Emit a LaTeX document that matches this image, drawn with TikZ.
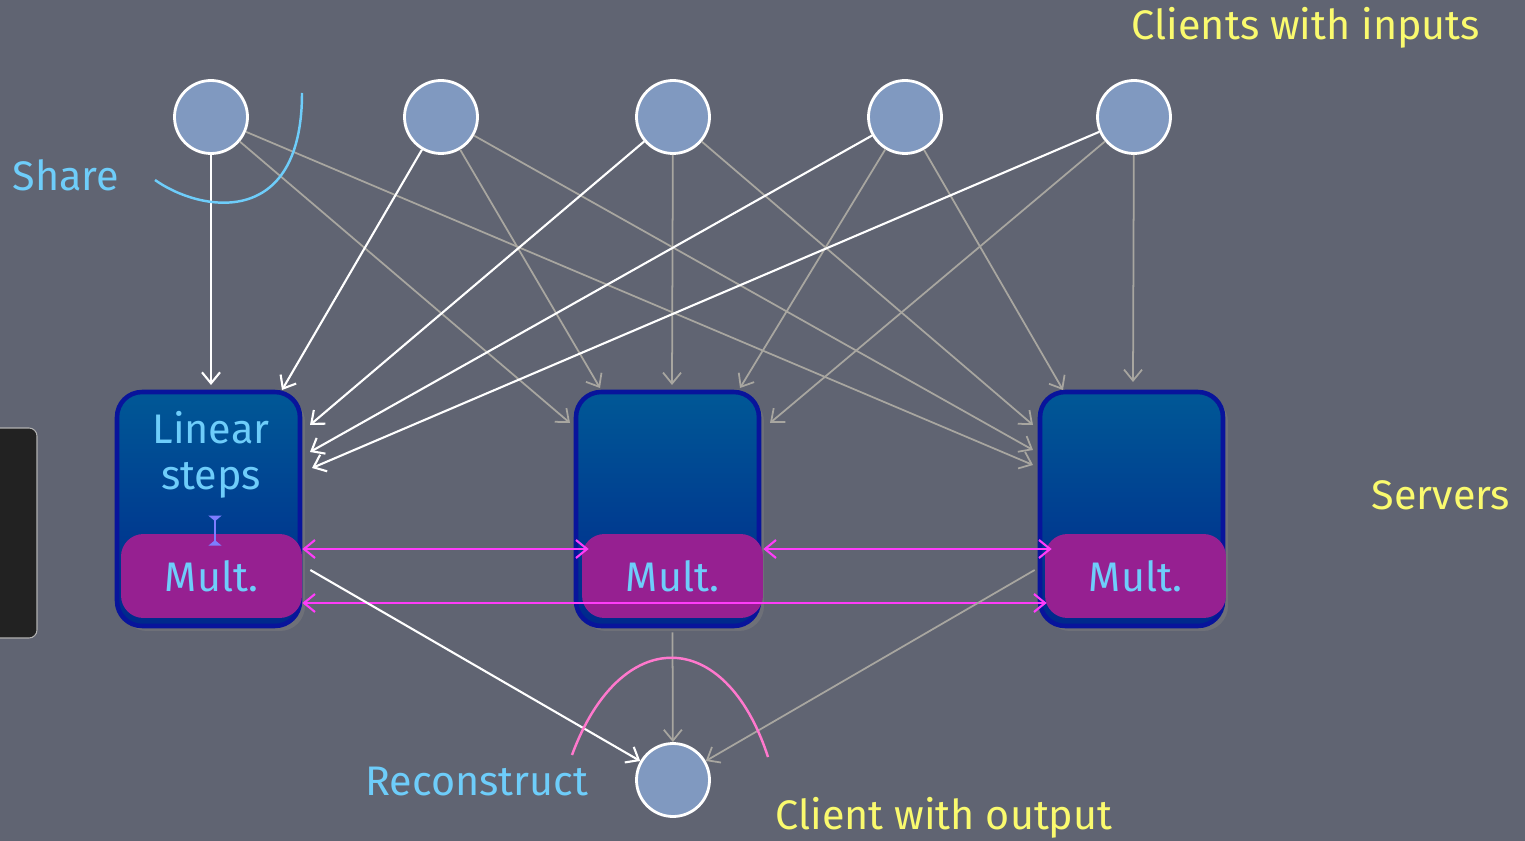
\documentclass[tikz,border=0pt]{standalone}
\usepackage{fontspec}
\setmainfont{Fira Sans}
\usetikzlibrary{arrows.meta,shadows}
\definecolor{boardGray}{RGB}{96,100,114}
\definecolor{panelBlack}{RGB}{34,34,34}
\definecolor{clientBlue}{RGB}{128,153,192}
\definecolor{serverTop}{RGB}{0,88,150}
\definecolor{serverBottom}{RGB}{0,40,140}
\definecolor{serverEdge}{RGB}{8,20,155}
\definecolor{multPurple}{RGB}{150,32,145}
\definecolor{labelCyan}{RGB}{110,205,250}
\definecolor{labelYellow}{RGB}{250,250,110}
\definecolor{shareGray}{RGB}{168,166,160}
\definecolor{linkMagenta}{RGB}{255,60,250}
\definecolor{arcPink}{RGB}{255,120,205}
\definecolor{beamViolet}{RGB}{125,125,255}

\begin{document}
\begin{tikzpicture}[x=0.02cm, y=-0.02cm, >={Straight Barb[length=2.2mm,width=3.6mm]},
    client/.style={circle, draw=white, line width=1.6pt, fill=clientBlue, minimum size=1.46cm, inner sep=0pt},
    server/.style={rectangle, draw=serverEdge, line width=2.6pt, top color=serverTop, bottom color=serverBottom, minimum width=3.66cm, minimum height=4.68cm, rounded corners=0.5cm, drop shadow={opacity=0.45, shadow xshift=0.1cm, shadow yshift=-0.1cm}},
    mult/.style={rectangle, fill=multPurple, minimum width=3.62cm, minimum height=1.68cm, rounded corners=0.45cm, text=labelCyan, font=\fontsize{23.5}{26}\selectfont},
    lab/.style={inner sep=0pt, font=\fontsize{23.5}{26}\selectfont},
    shareline/.style={shareGray, line width=1pt, ->},
    keyline/.style={white, line width=1.2pt, ->},
    link/.style={linkMagenta, line width=1.2pt, <->}]
    \useasboundingbox (0,0) rectangle (1525,841);
    \fill[boardGray] (0,0) rectangle (1525,841);
    \draw[fill=panelBlack, draw=gray!60, line width=0.6pt, rounded corners=0.16cm] (-20,428) rectangle (37,638);

    % clients and servers
    \foreach \i/\x in {1/211, 2/441, 3/673, 4/905, 5/1134}
        \node[client] (c\i) at (\x,117) {};
    \node[client] (out) at (673,780) {};
    \foreach \i/\x in {1/208.5, 2/667.5, 3/1131.5}
        \node[server] (s\i) at (\x,509) {};
    \foreach \i/\x in {1/211.5, 2/672.5, 3/1135.5}
        \node[mult] (m\i) at (\x,576) {Mult.};
    \node[lab, text=labelCyan, align=center] (linear) at (211,455) {Linear\\steps};

    % arrow tips at the servers
    \foreach \n/\px/\py in {t11/211/385, t21/282/390, t31/310/425, t41/310/452, t51/312/468,
                            t12/570/423, t22/600/388, t32/672/385, t42/740/388, t52/770/423,
                            t13/1033/465, t23/1033/450, t33/1033/425, t43/1063/390, t53/1133/382}
        \coordinate (\n) at (\px,\py);
    \foreach \c in {1,...,5}
        \foreach \s in {2,3}
            \draw[shareline] (c\c) -- (t\c\s);
    \foreach \c in {1,...,5}
        \draw[keyline] (c\c) -- (t\c1);

    % multiplication links
    \draw[link] ([yshift=0.54cm]m1.east) -- ([yshift=0.54cm, xshift=0.14cm]m2.west);
    \draw[link] ([yshift=0.54cm]m2.east) -- ([yshift=0.54cm, xshift=0.14cm]m3.west);
    \draw[link] ([yshift=-0.54cm]m1.east) -- ([yshift=-0.54cm, xshift=0.04cm]m3.west);
    \draw[beamViolet, line width=1pt, {Triangle[reversed,length=1.1mm,width=2.6mm]}-{Triangle[reversed,length=1.1mm,width=2.6mm]}]
        ([xshift=0.07cm, yshift=0.36cm]m1.north) -- ([xshift=0.07cm, yshift=-0.24cm]m1.north);

    % reconstruction
    \draw[keyline] ([xshift=0.16cm, yshift=0.12cm]m1.east) -- (out);
    \draw[shareline] ([yshift=-0.28cm]m2.south) -- (out);
    \draw[shareline] ([xshift=-0.2cm, yshift=0.12cm]m3.west) -- (out);

    % annotations
    \draw[labelCyan, line width=1.4pt] (155,180) .. controls (200,212) and (302,230) .. (302,93);
    \draw[arcPink, line width=1.4pt] (572,755) .. controls (620,625) and (725,625) .. (768,757);
    \node[lab, text=labelYellow] (inputs) at (1306,28) {Clients with inputs};
    \node[lab, text=labelCyan] (share) at (66,175) {Share};
    \node[lab, text=labelYellow] (servers) at (1441,495) {Servers};
    \node[lab, text=labelCyan] (reconstruct) at (477,782) {Reconstruct};
    \node[lab, text=labelYellow] (output) at (944,818) {Client with output};
\end{tikzpicture}
\end{document}
